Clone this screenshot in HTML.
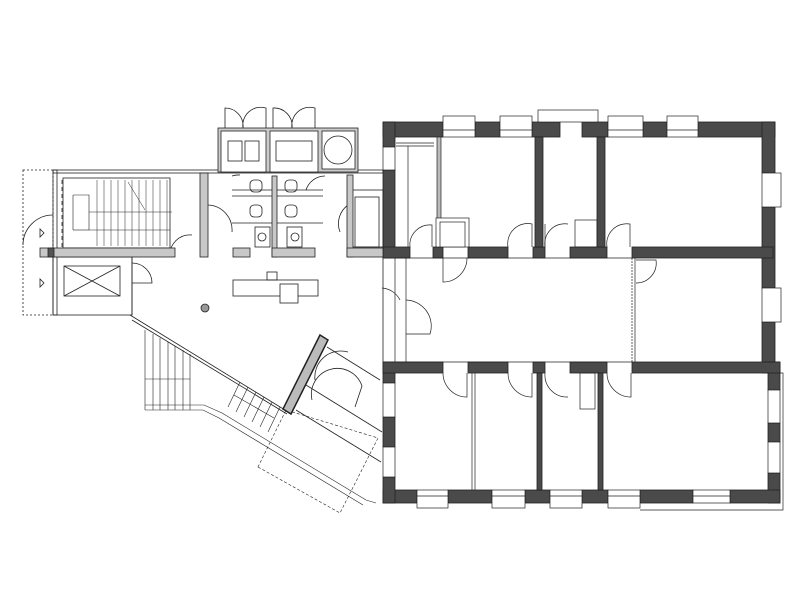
<!DOCTYPE html>
<html><head><style>html,body{margin:0;padding:0;background:#fff}svg{display:block}</style></head>
<body>
<svg width="800" height="600" viewBox="0 0 800 600" xmlns="http://www.w3.org/2000/svg">
<rect width="800" height="600" fill="#fff"/>
<g fill="#4a4a4a" stroke="#222" stroke-width="0.8">
<!-- outer walls main building -->
<!-- top wall segments -->
<rect x="383" y="122" width="60" height="15"/>
<rect x="475" y="122" width="25" height="15"/>
<rect x="532" y="122" width="28" height="15"/>
<rect x="582" y="122" width="26" height="15"/>
<rect x="643" y="122" width="24" height="15"/>
<rect x="698" y="122" width="77" height="15"/>
<!-- right wall -->
<rect x="762" y="122" width="13" height="51"/>
<rect x="762" y="207" width="13" height="81"/>
<rect x="762" y="322" width="13" height="51"/>
<rect x="768" y="362" width="12" height="28"/>
<rect x="768" y="423" width="12" height="19"/>
<rect x="768" y="473" width="12" height="30"/>
<!-- bottom wall -->
<rect x="383" y="490" width="34" height="13"/>
<rect x="448" y="490" width="44" height="13"/>
<rect x="525" y="490" width="25" height="13"/>
<rect x="582" y="490" width="26" height="13"/>
<rect x="640" y="490" width="53" height="13"/>
<rect x="730" y="490" width="50" height="13"/>
<!-- left wall -->
<rect x="383" y="122" width="12" height="25"/>
<rect x="383" y="170" width="12" height="88"/>
<rect x="383" y="362" width="12" height="21"/>
<rect x="383" y="417" width="12" height="30"/>
<rect x="383" y="477" width="12" height="26"/>
<!-- upper corridor wall -->
<rect x="383" y="247" width="27" height="11"/>
<rect x="433" y="247" width="10" height="11"/>
<rect x="468" y="247" width="40" height="11"/>
<rect x="533" y="247" width="12" height="11"/>
<rect x="570" y="247" width="37" height="11"/>
<rect x="632" y="247" width="141" height="11"/>
<!-- lower corridor wall -->
<rect x="383" y="362" width="60" height="11"/>
<rect x="468" y="362" width="40" height="11"/>
<rect x="533" y="362" width="12" height="11"/>
<rect x="570" y="362" width="37" height="11"/>
<rect x="632" y="362" width="148" height="11"/>
<!-- vertical interior walls -->
<rect x="535" y="137" width="8" height="110"/>
<rect x="597" y="137" width="8" height="110"/>
<rect x="537" y="373" width="5" height="117"/>
<rect x="598" y="373" width="5" height="117"/>
</g>
<!-- windows main building -->
<g fill="#fff" stroke="#222" stroke-width="0.7">
<rect x="443" y="116" width="32" height="21"/><rect x="500" y="116" width="32" height="21"/>
<rect x="538" y="110" width="60" height="12"/><rect x="608" y="116" width="35" height="21"/><rect x="667" y="116" width="31" height="21"/>
<rect x="762" y="173" width="19" height="34"/><rect x="762" y="288" width="19" height="34"/>
<rect x="768" y="390" width="12" height="33"/><rect x="768" y="442" width="12" height="31"/>
<rect x="417" y="490" width="31" height="18"/><rect x="492" y="490" width="33" height="18"/><rect x="550" y="490" width="32" height="18"/><rect x="608" y="490" width="32" height="18"/><rect x="693" y="490" width="37" height="13"/>
<rect x="383" y="147" width="12" height="23"/><rect x="383" y="383" width="12" height="34"/><rect x="383" y="447" width="12" height="30"/>
</g>
<g fill="none" stroke="#222" stroke-width="0.7">
<line x1="443" y1="130" x2="475" y2="130"/><line x1="500" y1="130" x2="532" y2="130"/><line x1="608" y1="130" x2="643" y2="130"/><line x1="667" y1="130" x2="698" y2="130"/>
<line x1="417" y1="496" x2="448" y2="496"/><line x1="492" y1="496" x2="525" y2="496"/><line x1="550" y1="496" x2="582" y2="496"/><line x1="608" y1="496" x2="640" y2="496"/><line x1="693" y1="496" x2="730" y2="496"/>
<polyline points="780,373 783,373 783,510 640,510"/>
<!-- left open corridor lines -->
<line x1="395" y1="258" x2="395" y2="362"/><line x1="406" y1="258" x2="406" y2="362"/>
<!-- right corridor partition -->
<line x1="632" y1="258" x2="632" y2="362" stroke-dasharray="2,1"/><line x1="635" y1="258" x2="635" y2="362"/>
<!-- interior thin wall + closet -->
<rect x="437" y="137" width="4" height="110" fill="#bbb"/>
<rect x="436" y="218" width="33" height="29" fill="#fff"/>
<rect x="440" y="222" width="25" height="25" fill="#fff"/>
<rect x="575" y="220" width="22" height="27"/>
<line x1="396" y1="143" x2="434" y2="143"/><line x1="396" y1="146" x2="434" y2="146"/><line x1="408" y1="146" x2="408" y2="247"/>
<line x1="472" y1="373" x2="472" y2="490"/><line x1="475" y1="373" x2="475" y2="490"/>
<rect x="580" y="373" width="15" height="36"/>
<!-- doors upper -->
<path d="M410,247 A20,20 0 0 1 432,225 L432,247"/>
<path d="M508,247 A20,20 0 0 1 532,224 L532,247"/>
<path d="M545,247 A20,20 0 0 1 568,224"/><line x1="545" y1="224" x2="545" y2="247"/>
<path d="M607,247 A20,20 0 0 1 630,224 L630,247"/>
<path d="M443,258 L443,282 A24,24 0 0 0 467,258"/>
<path d="M636,260 L656,260 A20,20 0 0 1 636,283"/>
<path d="M382,288 A22,22 0 0 1 400,300"/>
<path d="M406,300 A26,26 0 0 1 430,334 L406,334"/>
<!-- doors lower -->
<path d="M443,373 A24,24 0 0 0 467,397 L467,373"/>
<path d="M508,373 A24,24 0 0 0 532,397 L532,373"/>
<path d="M545,373 A22,22 0 0 0 568,397"/>
<path d="M607,373 A24,24 0 0 0 631,397 L631,373"/>
<line x1="395" y1="258" x2="632" y2="258"/><line x1="395" y1="362" x2="632" y2="362"/>
</g>
<!-- LEFT WING -->
<g fill="none" stroke="#222" stroke-width="0.8">
<!-- dashed outline -->
<rect x="23" y="170" width="30" height="145" stroke-dasharray="2,2"/>
<!-- stair block -->
<rect x="53" y="170" width="330" height="3"/>
<rect x="53" y="170" width="4" height="145"/>
<rect x="63" y="178" width="107" height="70"/>
<line x1="62" y1="180" x2="62" y2="248" stroke-dasharray="4,3"/>
<g stroke-width="0.6">
<line x1="89" y1="212" x2="172" y2="212"/>
<polyline points="73,195 89,195 89,230 170,230"/>
<line x1="73" y1="195" x2="73" y2="230"/><line x1="73" y1="230" x2="89" y2="230"/>
</g>
<g stroke-width="0.5">
<path d="M97,180V212M104,180V212M111,180V212M118,180V212M125,180V212M132,180V212M139,180V212M146,180V212M153,180V212M160,180V212M167,180V212"/>
<path d="M97,212V246M104,212V246M111,212V246M118,212V246M125,212V246M132,212V246M139,212V246M146,212V246M153,212V246M160,212V246M167,212V246"/>
<line x1="128" y1="182" x2="145" y2="210"/>
</g>
<path d="M23,245 A30,30 0 0 1 53,215"/>
<path d="M44,233 l-4,-4 l0,8 z M44,283 l-4,-4 l0,8z"/>
<!-- elevator -->
<rect x="53" y="257" width="79" height="58"/>
<rect x="64" y="266" width="56" height="30"/>
<line x1="64" y1="266" x2="120" y2="296"/><line x1="64" y1="296" x2="120" y2="266"/>
<path d="M132,263 A20,20 0 0 1 152,283 L132,283"/>
<!-- restrooms -->
<path d="M170,257 A20,20 0 0 1 192,235 M208,205 A25,25 0 0 1 232,232 M340,232 A23,23 0 0 1 348,205"/>
<line x1="232" y1="190" x2="323" y2="190"/><line x1="232" y1="196" x2="323" y2="196"/>
<line x1="232" y1="223" x2="323" y2="223"/>
<rect x="250" y="180" width="12" height="12" rx="4"/><rect x="285" y="180" width="12" height="12" rx="4"/>
<rect x="250" y="205" width="12" height="12" rx="4"/><rect x="285" y="205" width="12" height="12" rx="4"/>
<rect x="255" y="227" width="15" height="20"/><rect x="287" y="227" width="15" height="20"/>
<circle cx="262" cy="237" r="4"/><circle cx="295" cy="237" r="4"/>
<path d="M232,176 A22,22 0 0 1 240,175 M325,176 A20,20 0 0 0 306,190"/>
<!-- top booths -->
<rect x="218" y="128" width="140" height="44" fill="#ccc"/>
<rect x="221" y="131" width="45" height="41" fill="#fff"/><rect x="270" y="131" width="48" height="41" fill="#fff"/><rect x="322" y="131" width="33" height="38" fill="#fff"/>
<rect x="228" y="141" width="14" height="20"/><rect x="245" y="141" width="14" height="20"/>
<rect x="276" y="141" width="36" height="20"/>
<circle cx="338" cy="150" r="14"/>
<path d="M225,128 V108 A18,18 0 0 1 243,128 A18,18 0 0 1 266,108 V128 M273,128 V108 A18,18 0 0 1 292,128 A18,18 0 0 1 315,108 V128"/>
<!-- right storage -->
<rect x="350" y="190" width="33" height="57"/>
<rect x="355" y="197" width="24" height="50"/>
<!-- reception desk -->
<rect x="233" y="280" width="85" height="16" fill="#fff"/>
<rect x="280" y="284" width="18" height="19" fill="#fff"/>
<rect x="267" y="272" width="10" height="8"/>
<circle cx="205" cy="308" r="4" fill="#999"/>
<!-- lobby outline -->
<line x1="132" y1="257" x2="132" y2="315"/>
<line x1="383" y1="258" x2="383" y2="362"/>
<!-- handrail diagonal -->
<line x1="130" y1="315" x2="285" y2="410"/><line x1="132" y1="320" x2="287" y2="414"/>
<!-- lower left stair -->
<g stroke-width="0.6">
<path d="M145,330V410M153,334V410M160,338V410M168,342V410M175,346V410M183,350V410M190,354V410"/>
<line x1="145" y1="379" x2="190" y2="379"/>
<polyline points="145,405 204,405 222,413 366,500 376,503"/>
<polyline points="145,410 203,410 219,418 363,505"/>
<path d="M240,382 L228,407 M248,387 L236,412 M256,392 L244,417 M264,397 L252,422 M272,402 L260,427 M280,407 L268,432"/>
<line x1="234" y1="395" x2="274" y2="418"/>
</g>
<!-- dashed landing -->
<polygon points="258,467 340,513 378,438 286,410" stroke-dasharray="3,2" stroke-width="0.6"/>
<!-- dark angled panel -->
<polygon points="320,335 328,340 291,414 283,409" fill="#bbb" stroke="#222" stroke-width="1.5"/>
<!-- door lines to building -->
<line x1="327" y1="347" x2="380" y2="380"/>
<line x1="306" y1="385" x2="382" y2="432"/>
<line x1="296" y1="410" x2="381" y2="462"/>
<path d="M315,380 A26,26 0 0 1 348,352 M312,400 A26,26 0 0 1 362,386 L355,407"/>
</g>
<!-- grey walls left wing -->
<g fill="#c8c8c8" stroke="#222" stroke-width="0.8">
<rect x="40" y="248" width="135" height="9"/>
<rect x="200" y="173" width="8" height="84"/>
<rect x="233" y="248" width="17" height="9"/>
<rect x="272" y="176" width="5" height="81"/>
<rect x="272" y="248" width="43" height="9"/>
<rect x="347" y="175" width="6" height="82"/>
<rect x="347" y="248" width="36" height="9"/>
<rect x="48" y="248" width="6" height="9" fill="#555"/>
</g>
</svg>
</body></html>
